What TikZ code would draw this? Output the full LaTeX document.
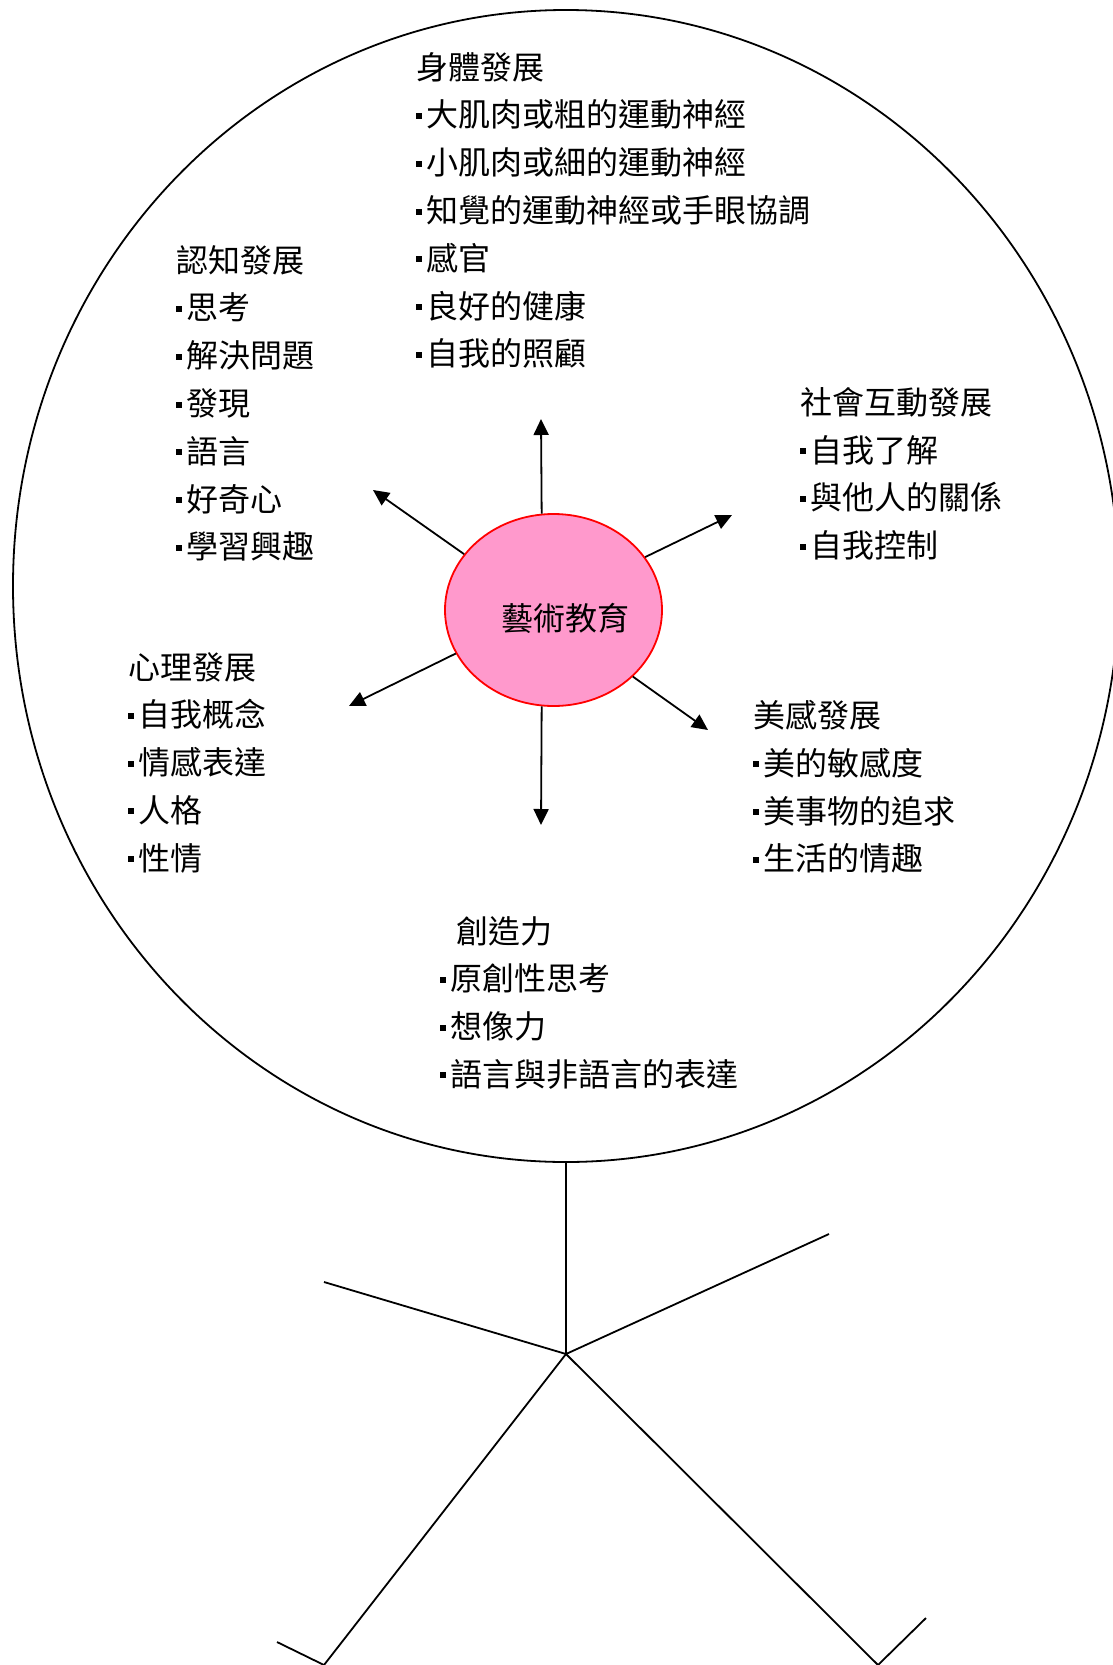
\documentclass[tikz,border=0pt]{standalone}
\usepackage{fontspec}
\setmainfont{Noto Sans CJK TC}
\usetikzlibrary{arrows.meta,shapes.geometric}
\definecolor{pinkfill}{RGB}{255,153,204}
\newcommand{\itm}{\rule[8pt]{6pt}{6pt}\hspace{4pt}}
\tikzset{
  blk/.style={anchor=north west,inner sep=0pt,align=left,font=\fontsize{32}{47.8}\selectfont},
  arr/.style={-{Triangle[length=16pt,width=15pt]},line width=1.8pt},
  stick/.style={line width=1.8pt}
}
\begin{document}
\begin{tikzpicture}[x=1pt,y=-1pt]
\useasboundingbox (0,0) rectangle (1113,1665);
\node[ellipse,draw,line width=1.8pt,minimum width=1106pt,minimum height=1152pt,inner sep=0pt](head) at (566,586){};
\node[ellipse,draw=red,fill=pinkfill,line width=1.8pt,minimum width=217pt,minimum height=192pt,inner sep=0pt](art) at (553.5,610){};
\node[inner sep=0pt,font=\fontsize{32}{40}\selectfont](arttext) at (565,618){藝術教育};

\coordinate (tup) at (541,419);   \coordinate (tdown) at (541,825);
\coordinate (tul) at (373,490);   \coordinate (tur) at (732,515);
\coordinate (tll) at (349,706);   \coordinate (tlr) at (708,730);
\path[arr]
    (art.97)  edge (tup)
    (art.263) edge (tdown)
    (art.148) edge (tul)
    (art.30)  edge (tur)
    (art.204) edge (tll)
    (art.320) edge (tlr);

\node[blk](body) at (416,52){身體發展\\
  \itm 大肌肉或粗的運動神經\\
  \itm 小肌肉或細的運動神經\\
  \itm 知覺的運動神經或手眼協調\\
  \itm 感官\\
  \itm 良好的健康\\
  \itm 自我的照顧};
\node[blk](cogn) at (176,245){認知發展\\
  \itm 思考\\
  \itm 解決問題\\
  \itm 發現\\
  \itm 語言\\
  \itm 好奇心\\
  \itm 學習興趣};
\node[blk](social) at (800,387){社會互動發展\\
  \itm 自我了解\\
  \itm 與他人的關係\\
  \itm 自我控制};
\node[blk](psych) at (128,652){心理發展\\
  \itm 自我概念\\
  \itm 情感表達\\
  \itm 人格\\
  \itm 性情};
\node[blk](aesth) at (753,700){美感發展\\
  \itm 美的敏感度\\
  \itm 美事物的追求\\
  \itm 生活的情趣};
\node[blk](creat) at (440,916){\hspace{16pt}創造力\\
  \itm 原創性思考\\
  \itm 想像力\\
  \itm 語言與非語言的表達};

% stick figure below the head
\coordinate (hip) at (566,1354);
\coordinate (lhand) at (324,1282);  \coordinate (rhand) at (829,1234);
\coordinate (lfoot) at (324,1665);  \coordinate (ltoe) at (277,1642);
\coordinate (rfoot) at (878,1665);  \coordinate (rtoe) at (926,1618);
\draw[stick] (head.south) -- (hip);
\draw[stick] (lhand) -- (hip) -- (rhand);
\draw[stick] (ltoe) -- (lfoot) -- (hip) -- (rfoot) -- (rtoe);
\end{tikzpicture}
\end{document}
